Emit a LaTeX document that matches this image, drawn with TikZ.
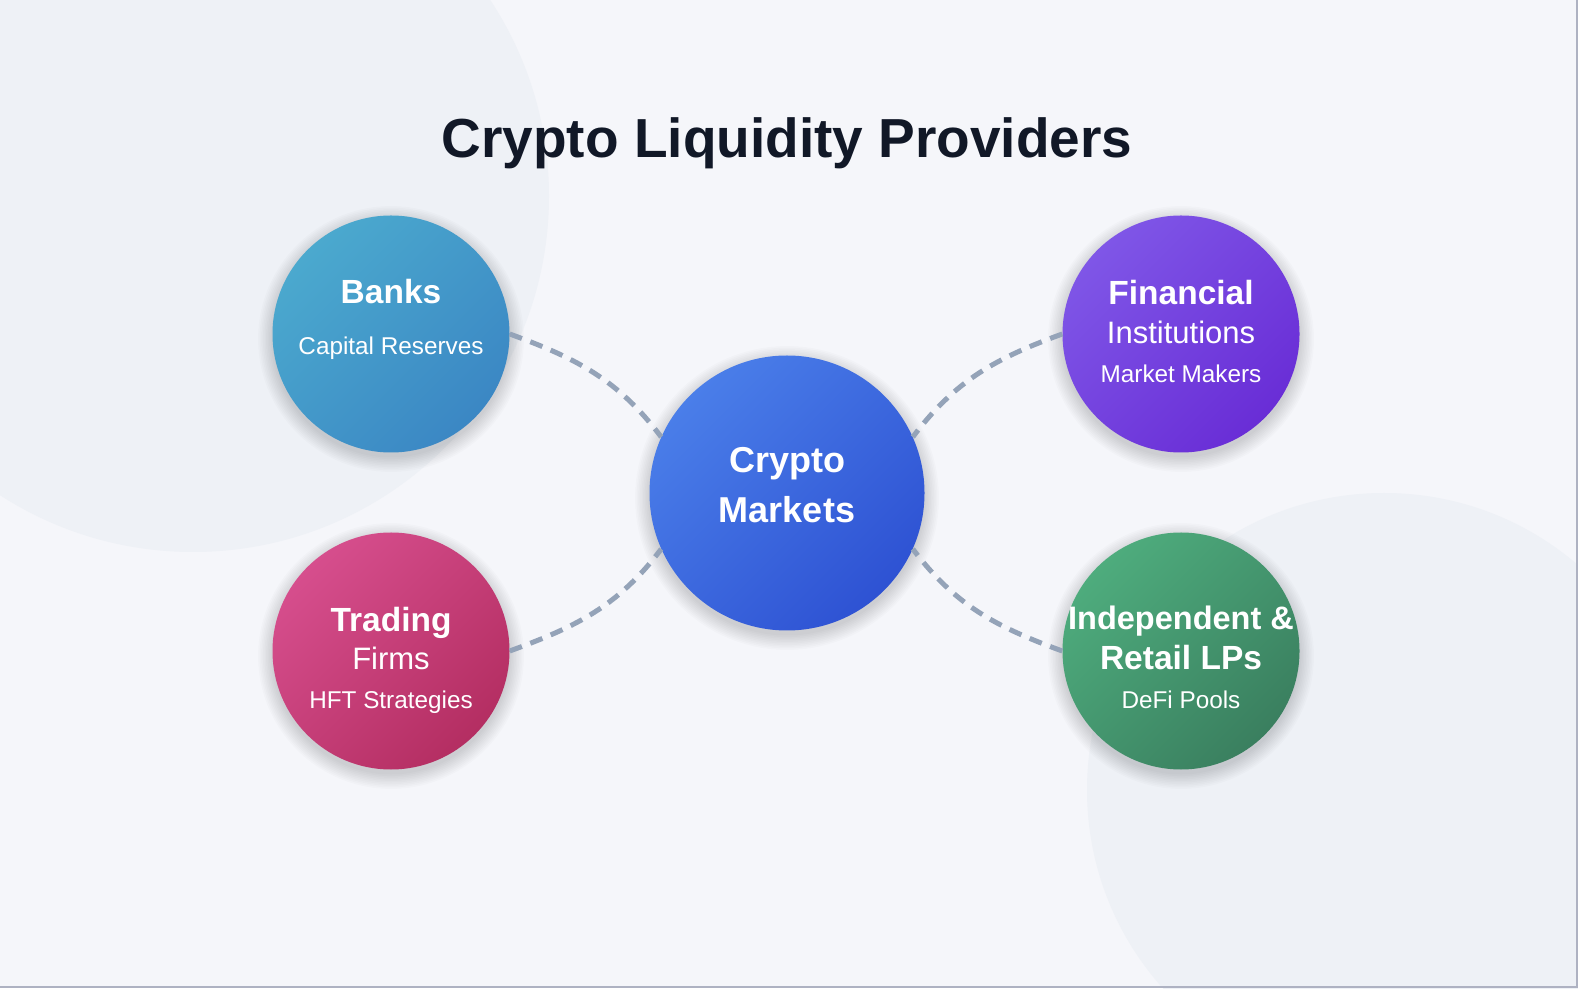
\documentclass[tikz,border=0pt]{standalone}
\usepackage{fontspec}
\setmainfont{Liberation Sans}
\usetikzlibrary{positioning}

\definecolor{pagebg}{HTML}{F5F6FA}
\definecolor{blobbg}{HTML}{EEF1F6}
\definecolor{titleink}{HTML}{111827}
\definecolor{linkgray}{HTML}{94A3B8}
\definecolor{edgegray}{HTML}{AEB2C2}
\definecolor{coreA}{RGB}{74,126,233}
\definecolor{coreB}{RGB}{46,82,211}
\definecolor{banksA}{RGB}{75,169,206}
\definecolor{banksB}{RGB}{59,135,196}
\definecolor{finA}{RGB}{127,86,231}
\definecolor{finB}{RGB}{105,45,214}
\definecolor{tradeA}{RGB}{214,78,141}
\definecolor{tradeB}{RGB}{180,46,98}
\definecolor{indepA}{RGB}{78,172,125}
\definecolor{indepB}{RGB}{58,127,95}

\tikzset{
  bubble/.style={circle, minimum size=237pt, inner sep=0pt},
  hub/.style={bubble, minimum size=275pt},
  tint/.style 2 args={top color=#1, bottom color=#2, shading angle=45},
  link/.style={draw=linkgray, line width=5pt, dash pattern=on 13pt off 9pt},
  headtxt/.style={text=white, anchor=base, inner sep=0pt,
    font=\fontsize{33.5}{40}\selectfont\bfseries},
  midtxt/.style={text=white, anchor=base, inner sep=0pt,
    font=\fontsize{31}{36}\selectfont},
  subtxt/.style={text=white, anchor=base, inner sep=0pt,
    font=\fontsize{24.3}{29}\selectfont},
}

\begin{document}
\begin{tikzpicture}[x=1pt, y=1pt]

\coordinate (SW) at (0,0);
\coordinate (NE) at (1578,988);
\useasboundingbox (SW) rectangle (NE);
\fill[pagebg] (SW) rectangle (NE);

% soft background blobs
\begin{scope}
        \clip (SW) rectangle (NE);
        \fill[blobbg] (193,792) circle[radius=356];
        \fill[blobbg] (1384,198) circle[radius=297];
\end{scope}
\draw[edgegray, line width=2pt] (1577,988) -- (1577,1) -- (0,1);

\node[font=\fontsize{55}{66}\selectfont\bfseries, text=titleink, anchor=base]
        (title) at (787,830) {Crypto Liquidity Providers};

\coordinate (P) at (787,495);
\coordinate (Q1) at (391,654);
\coordinate (Q2) at (1181,654);
\coordinate (Q3) at (391,337);
\coordinate (Q4) at (1181,337);

% shadows
\foreach \p/\r in {P/137.5, Q1/118.5, Q2/118.5, Q3/118.5, Q4/118.5}
        \foreach \k in {0,...,9}
                \fill[black, opacity=0.016] ([yshift=-5pt]\p) circle[radius=\r+\k*1.6];

% circles
\node[hub, tint={coreA}{coreB}] (core) at (P) {};
\node[bubble, tint={banksA}{banksB}] (banks) at (Q1) {};
\node[bubble, tint={finA}{finB}] (fininst) at (Q2) {};
\node[bubble, tint={tradeA}{tradeB}] (trading) at (Q3) {};
\node[bubble, tint={indepA}{indepB}] (indep) at (Q4) {};

% links
\draw[link] (banks.east) to[out=-20, in=127] (core.156);
\draw[link] (fininst.west) to[out=200, in=53] (core.24);
\draw[link] (trading.east) to[out=20, in=233] (core.204);
\draw[link] (indep.west) to[out=160, in=307] (core.336);

% labels
\node[headtxt, font=\fontsize{36}{42}\selectfont\bfseries] (core-a) at ([yshift=20pt]core.center) {Crypto};
\node[headtxt, font=\fontsize{36}{42}\selectfont\bfseries] (core-b) at ([yshift=-30pt]core.center) {Markets};

\node[headtxt] (banks-a) at ([yshift=30pt]banks.center) {Banks};
\node[subtxt] (banks-b) at ([yshift=-21pt]banks.center) {Capital Reserves};

\node[headtxt] (fininst-a) at ([yshift=29pt]fininst.center) {Financial};
\node[midtxt] (fininst-b) at ([yshift=-10pt]fininst.center) {Institutions};
\node[subtxt] (fininst-c) at ([yshift=-49pt]fininst.center) {Market Makers};

\node[headtxt] (trading-a) at ([yshift=19pt]trading.center) {Trading};
\node[midtxt] (trading-b) at ([yshift=-19pt]trading.center) {Firms};
\node[subtxt] (trading-c) at ([yshift=-58pt]trading.center) {HFT Strategies};

\node[headtxt, font=\fontsize{32.5}{39}\selectfont\bfseries] (indep-a) at ([yshift=21pt]indep.center) {Independent \&};
\node[headtxt] (indep-b) at ([yshift=-19pt]indep.center) {Retail LPs};
\node[subtxt] (indep-c) at ([yshift=-58pt]indep.center) {DeFi Pools};

\end{tikzpicture}
\end{document}
